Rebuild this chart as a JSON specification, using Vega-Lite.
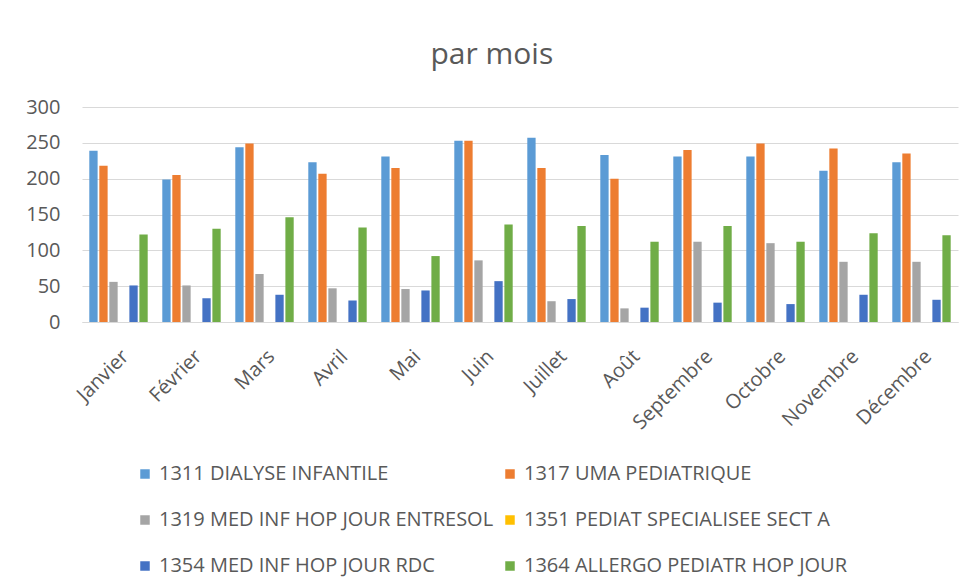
{
  "$schema": "https://vega.github.io/schema/vega-lite/v6.json",
  "autosize": "none",
  "width": 876,
  "height": 215,
  "padding": {"left": 82, "top": 107, "right": 20, "bottom": 265},
  "background": "white",
  "title": {"text": "par mois", "font": "Open Sans", "fontSize": 30, "fontWeight": "normal", "color": "#595959", "anchor": "middle", "frame": "bounds", "offset": 27},
  "config": {"view": {"stroke": null}, "font": "Open Sans"},
  "data": {"values": [
    {"mois": "Janvier", "serie": "1311 DIALYSE INFANTILE", "valeur": 239},
    {"mois": "Janvier", "serie": "1317 UMA PEDIATRIQUE", "valeur": 218},
    {"mois": "Janvier", "serie": "1319 MED INF HOP JOUR ENTRESOL", "valeur": 56},
    {"mois": "Janvier", "serie": "1351 PEDIAT SPECIALISEE SECT A", "valeur": 0},
    {"mois": "Janvier", "serie": "1354 MED INF HOP JOUR RDC", "valeur": 51},
    {"mois": "Janvier", "serie": "1364 ALLERGO PEDIATR HOP JOUR", "valeur": 122},
    {"mois": "Février", "serie": "1311 DIALYSE INFANTILE", "valeur": 199},
    {"mois": "Février", "serie": "1317 UMA PEDIATRIQUE", "valeur": 205},
    {"mois": "Février", "serie": "1319 MED INF HOP JOUR ENTRESOL", "valeur": 51},
    {"mois": "Février", "serie": "1351 PEDIAT SPECIALISEE SECT A", "valeur": 0},
    {"mois": "Février", "serie": "1354 MED INF HOP JOUR RDC", "valeur": 33},
    {"mois": "Février", "serie": "1364 ALLERGO PEDIATR HOP JOUR", "valeur": 130},
    {"mois": "Mars", "serie": "1311 DIALYSE INFANTILE", "valeur": 244},
    {"mois": "Mars", "serie": "1317 UMA PEDIATRIQUE", "valeur": 249},
    {"mois": "Mars", "serie": "1319 MED INF HOP JOUR ENTRESOL", "valeur": 67},
    {"mois": "Mars", "serie": "1351 PEDIAT SPECIALISEE SECT A", "valeur": 0},
    {"mois": "Mars", "serie": "1354 MED INF HOP JOUR RDC", "valeur": 38},
    {"mois": "Mars", "serie": "1364 ALLERGO PEDIATR HOP JOUR", "valeur": 146},
    {"mois": "Avril", "serie": "1311 DIALYSE INFANTILE", "valeur": 223},
    {"mois": "Avril", "serie": "1317 UMA PEDIATRIQUE", "valeur": 207},
    {"mois": "Avril", "serie": "1319 MED INF HOP JOUR ENTRESOL", "valeur": 47},
    {"mois": "Avril", "serie": "1351 PEDIAT SPECIALISEE SECT A", "valeur": 0},
    {"mois": "Avril", "serie": "1354 MED INF HOP JOUR RDC", "valeur": 30},
    {"mois": "Avril", "serie": "1364 ALLERGO PEDIATR HOP JOUR", "valeur": 132},
    {"mois": "Mai", "serie": "1311 DIALYSE INFANTILE", "valeur": 231},
    {"mois": "Mai", "serie": "1317 UMA PEDIATRIQUE", "valeur": 215},
    {"mois": "Mai", "serie": "1319 MED INF HOP JOUR ENTRESOL", "valeur": 46},
    {"mois": "Mai", "serie": "1351 PEDIAT SPECIALISEE SECT A", "valeur": 0},
    {"mois": "Mai", "serie": "1354 MED INF HOP JOUR RDC", "valeur": 44},
    {"mois": "Mai", "serie": "1364 ALLERGO PEDIATR HOP JOUR", "valeur": 92},
    {"mois": "Juin", "serie": "1311 DIALYSE INFANTILE", "valeur": 253},
    {"mois": "Juin", "serie": "1317 UMA PEDIATRIQUE", "valeur": 253},
    {"mois": "Juin", "serie": "1319 MED INF HOP JOUR ENTRESOL", "valeur": 86},
    {"mois": "Juin", "serie": "1351 PEDIAT SPECIALISEE SECT A", "valeur": 0},
    {"mois": "Juin", "serie": "1354 MED INF HOP JOUR RDC", "valeur": 57},
    {"mois": "Juin", "serie": "1364 ALLERGO PEDIATR HOP JOUR", "valeur": 136},
    {"mois": "Juillet", "serie": "1311 DIALYSE INFANTILE", "valeur": 257},
    {"mois": "Juillet", "serie": "1317 UMA PEDIATRIQUE", "valeur": 215},
    {"mois": "Juillet", "serie": "1319 MED INF HOP JOUR ENTRESOL", "valeur": 29},
    {"mois": "Juillet", "serie": "1351 PEDIAT SPECIALISEE SECT A", "valeur": 0},
    {"mois": "Juillet", "serie": "1354 MED INF HOP JOUR RDC", "valeur": 32},
    {"mois": "Juillet", "serie": "1364 ALLERGO PEDIATR HOP JOUR", "valeur": 134},
    {"mois": "Août", "serie": "1311 DIALYSE INFANTILE", "valeur": 233},
    {"mois": "Août", "serie": "1317 UMA PEDIATRIQUE", "valeur": 200},
    {"mois": "Août", "serie": "1319 MED INF HOP JOUR ENTRESOL", "valeur": 19},
    {"mois": "Août", "serie": "1351 PEDIAT SPECIALISEE SECT A", "valeur": 0},
    {"mois": "Août", "serie": "1354 MED INF HOP JOUR RDC", "valeur": 20},
    {"mois": "Août", "serie": "1364 ALLERGO PEDIATR HOP JOUR", "valeur": 112},
    {"mois": "Septembre", "serie": "1311 DIALYSE INFANTILE", "valeur": 231},
    {"mois": "Septembre", "serie": "1317 UMA PEDIATRIQUE", "valeur": 240},
    {"mois": "Septembre", "serie": "1319 MED INF HOP JOUR ENTRESOL", "valeur": 112},
    {"mois": "Septembre", "serie": "1351 PEDIAT SPECIALISEE SECT A", "valeur": 0},
    {"mois": "Septembre", "serie": "1354 MED INF HOP JOUR RDC", "valeur": 27},
    {"mois": "Septembre", "serie": "1364 ALLERGO PEDIATR HOP JOUR", "valeur": 134},
    {"mois": "Octobre", "serie": "1311 DIALYSE INFANTILE", "valeur": 231},
    {"mois": "Octobre", "serie": "1317 UMA PEDIATRIQUE", "valeur": 249},
    {"mois": "Octobre", "serie": "1319 MED INF HOP JOUR ENTRESOL", "valeur": 110},
    {"mois": "Octobre", "serie": "1351 PEDIAT SPECIALISEE SECT A", "valeur": 0},
    {"mois": "Octobre", "serie": "1354 MED INF HOP JOUR RDC", "valeur": 25},
    {"mois": "Octobre", "serie": "1364 ALLERGO PEDIATR HOP JOUR", "valeur": 112},
    {"mois": "Novembre", "serie": "1311 DIALYSE INFANTILE", "valeur": 211},
    {"mois": "Novembre", "serie": "1317 UMA PEDIATRIQUE", "valeur": 242},
    {"mois": "Novembre", "serie": "1319 MED INF HOP JOUR ENTRESOL", "valeur": 84},
    {"mois": "Novembre", "serie": "1351 PEDIAT SPECIALISEE SECT A", "valeur": 0},
    {"mois": "Novembre", "serie": "1354 MED INF HOP JOUR RDC", "valeur": 38},
    {"mois": "Novembre", "serie": "1364 ALLERGO PEDIATR HOP JOUR", "valeur": 124},
    {"mois": "Décembre", "serie": "1311 DIALYSE INFANTILE", "valeur": 223},
    {"mois": "Décembre", "serie": "1317 UMA PEDIATRIQUE", "valeur": 235},
    {"mois": "Décembre", "serie": "1319 MED INF HOP JOUR ENTRESOL", "valeur": 84},
    {"mois": "Décembre", "serie": "1351 PEDIAT SPECIALISEE SECT A", "valeur": 0},
    {"mois": "Décembre", "serie": "1354 MED INF HOP JOUR RDC", "valeur": 31},
    {"mois": "Décembre", "serie": "1364 ALLERGO PEDIATR HOP JOUR", "valeur": 121}
  ]},
  "mark": {"type": "bar"},
  "encoding": {
    "x": {
      "field": "mois", "type": "nominal",
      "sort": ["Janvier", "Février", "Mars", "Avril", "Mai", "Juin", "Juillet", "Août", "Septembre", "Octobre", "Novembre", "Décembre"],
      "scale": {"paddingInner": 0.2, "paddingOuter": 0.1},
      "axis": {"title": null, "labelAngle": -45, "labelFontSize": 20, "labelColor": "#595959", "labelFont": "Open Sans", "ticks": false, "domainColor": "#d9d9d9", "labelPadding": 24, "labelAlign": "right", "labelBaseline": "top"}
    },
    "xOffset": {"field": "serie", "type": "nominal", "scale": {"paddingInner": 0.17, "paddingOuter": 0}},
    "y": {
      "field": "valeur", "type": "quantitative",
      "scale": {"domain": [0, 300], "nice": false},
      "axis": {"title": null, "values": [0, 50, 100, 150, 200, 250, 300], "labelFontSize": 20, "labelColor": "#595959", "labelFont": "Open Sans", "ticks": false, "domain": false, "gridColor": "#d9d9d9", "labelPadding": 22}
    },
    "color": {
      "field": "serie", "type": "nominal",
      "scale": {
        "domain": ["1311 DIALYSE INFANTILE", "1317 UMA PEDIATRIQUE", "1319 MED INF HOP JOUR ENTRESOL", "1351 PEDIAT SPECIALISEE SECT A", "1354 MED INF HOP JOUR RDC", "1364 ALLERGO PEDIATR HOP JOUR"],
        "range": ["#5B9BD5", "#ED7D31", "#A5A5A5", "#FFC000", "#4472C4", "#70AD47"]
      },
      "legend": {"title": null, "orient": "none", "legendX": 53, "legendY": 357, "columns": 2, "direction": "horizontal", "symbolType": "square", "symbolSize": 90, "symbolStrokeWidth": 0, "labelFontSize": 20, "labelColor": "#595959", "labelFont": "Open Sans", "labelLimit": 400, "labelOffset": 4, "columnPadding": 6, "rowPadding": 26}
    }
  }
}
